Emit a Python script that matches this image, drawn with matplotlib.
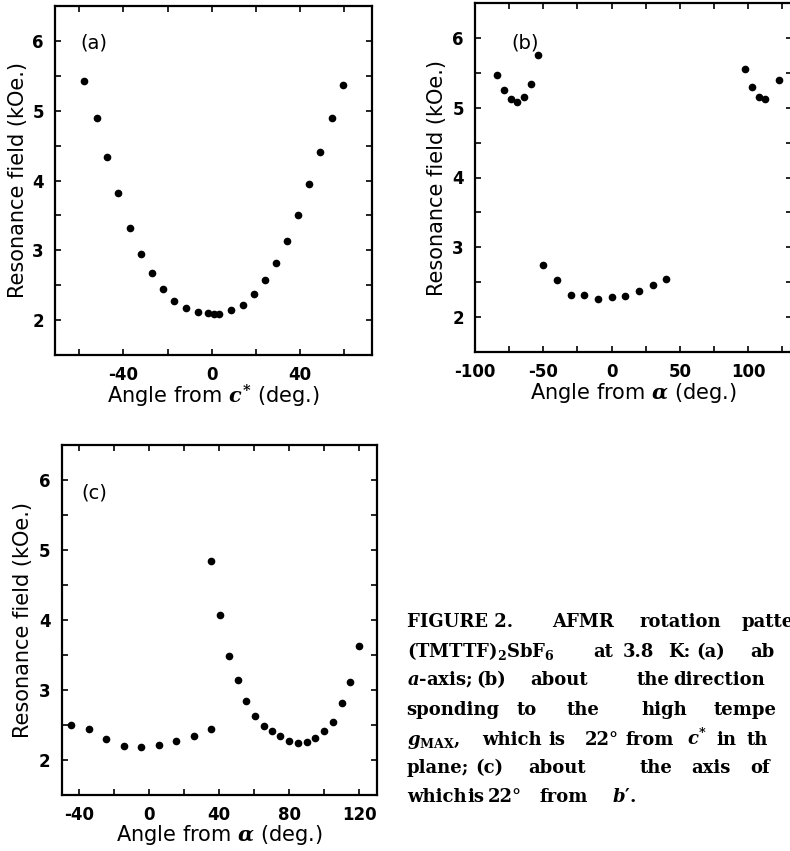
import matplotlib
matplotlib.use("Agg")
import matplotlib.pyplot as plt

W, H = 790, 851

# ---- data ----
a_angle = [-58, -52, -47.5, -42.5, -37, -32, -27, -22, -17, -11.5, -6, -1.5, 1, 3.5,
           9, 14, 19, 24, 29, 34, 39, 44, 49, 54.5, 59.5]
a_field = [5.43, 4.89, 4.33, 3.82, 3.32, 2.94, 2.67, 2.45, 2.28, 2.18, 2.11, 2.10, 2.09, 2.09,
           2.14, 2.22, 2.38, 2.58, 2.82, 3.13, 3.50, 3.95, 4.41, 4.90, 5.37]

b_angle = [-84, -79, -74, -69, -64, -59, -54,
           -50, -40, -30, -20, -10, 0, 10, 20, 30, 40,
           97.5, 102.5, 107.5, 112.5, 122.5]
b_field = [5.47, 5.25, 5.12, 5.08, 5.15, 5.34, 5.76,
           2.75, 2.53, 2.32, 2.32, 2.26, 2.29, 2.30, 2.37, 2.46, 2.54,
           5.55, 5.30, 5.16, 5.13, 5.39]

c_angle = [-44.5, -34.5, -24.5, -14.5, -4.5, 5.5, 15.5, 25.5, 35.5,
           35.5, 40.5, 45.5, 50.5, 55.5, 60.5, 65.5, 70, 75, 80, 85, 90, 95, 100, 105, 110, 115, 120]
c_field = [2.50, 2.44, 2.30, 2.20, 2.19, 2.22, 2.27, 2.35, 2.45,
           4.84, 4.07, 3.49, 3.15, 2.84, 2.63, 2.49, 2.41, 2.34, 2.27, 2.24, 2.26, 2.32, 2.42,
           2.55, 2.81, 3.11, 3.63]

a_xticks = [-60, -40, -20, 0, 20, 40, 60]
a_xlabels = ["", "-40", "", "0", "", "40", ""]
b_xticks = [-100, -75, -50, -25, 0, 25, 50, 75, 100, 125]
b_xlabels = ["-100", "", "-50", "", "0", "", "50", "", "100", ""]
c_xticks = [-40, -20, 0, 20, 40, 60, 80, 100, 120]
c_xlabels = ["-40", "", "0", "", "40", "", "80", "", "120"]
yticks = [2, 2.5, 3, 3.5, 4, 4.5, 5, 5.5, 6]
ylabels = ["2", "", "3", "", "4", "", "5", "", "6"]

plt.rcParams["axes.unicode_minus"] = False
plt.rcParams["mathtext.fontset"] = "custom"
plt.rcParams["mathtext.rm"] = "DejaVu Serif:bold"
plt.rcParams["mathtext.it"] = "DejaVu Serif:italic:bold"
plt.rcParams["mathtext.bf"] = "DejaVu Serif:bold"


def box(left, top, right, bottom):
    return [left / W, 1 - bottom / H, (right - left) / W, (bottom - top) / H]


def panel(ax, x, y, xlim, xticks, xlabels, xlabel, tag, tagpos, ylx, xly):
    ax.plot(x, y, "o", color="black", ms=4.5, ls="none")
    ax.set_xlim(*xlim)
    ax.set_ylim(1.5, 6.5)
    ax.set_xticks(xticks)
    ax.set_xticklabels(xlabels)
    ax.set_yticks(yticks)
    ax.set_yticklabels(ylabels)
    ax.tick_params(direction="in", length=4, width=1.2, top=True, right=True,
                   labelsize=12, pad=8)
    for lab in ax.get_xticklabels() + ax.get_yticklabels():
        lab.set_fontweight("bold")
    for s in ax.spines.values():
        s.set_linewidth(1.6)
    ax.set_ylabel("Resonance field (kOe.)", fontsize=15)
    ax.set_xlabel(xlabel, fontsize=15)
    ax.yaxis.set_label_coords(ylx, 0.5)
    ax.xaxis.set_label_coords(0.5, xly)
    ax.xaxis.label.set_va("center")
    ax.yaxis.label.set_va("center")
    ax.text(tagpos[0], tagpos[1], tag, transform=ax.transAxes, fontsize=14,
            ha="left", va="center")


fig = plt.figure(figsize=(W / 100, H / 100), dpi=100)

ax_a = fig.add_axes(box(55, 6, 372, 355))
panel(ax_a, a_angle, a_field, (-71, 72.7), a_xticks, a_xlabels,
      r"Angle from $c^{*}$ (deg.)", "(a)", (0.079, 0.894), -0.117, -0.119)

ax_b = fig.add_axes(box(475, 3, 792, 352))
panel(ax_b, b_angle, b_field, (-100, 132), b_xticks, b_xlabels,
      r"Angle from $\alpha$ (deg.)", "(b)", (0.116, 0.885), -0.121, -0.118)

ax_c = fig.add_axes(box(61.7, 445, 376.7, 795))
panel(ax_c, c_angle, c_field, (-50, 130), c_xticks, c_xlabels,
      r"Angle from $\alpha$ (deg.)", "(c)", (0.063, 0.862), -0.122, -0.114)

# ---- caption, word by word (justified text, runs off the right edge like the scan) ----
caption = [
    (626.7, [(406.7, "FIGURE 2."), (551.7, "AFMR"), (639.3, "rotation"), (741.7, "patte")]),
    (656.7, [(406.7, r"(TMTTF)$_2$SbF$_6$"), (593.3, "at"), (623, "3.8"), (668, "K:"),
             (696.7, "(a)"), (750, "ab")]),
    (685.0, [(406.7, r"$a$-axis;"), (476, "(b)"), (530, "about"), (637, "the"),
             (673.3, "direction")]),
    (715.0, [(406.7, "sponding"), (516.7, "to"), (566.7, "the"), (641.7, "high"),
             (713.3, "tempe")]),
    (745.0, [(406.7, r"$g_{\mathrm{MAX}}$,"), (481.7, "which"), (548.3, "is"), (585, "22°"),
             (625, "from"), (686.7, r"$c^{*}$"), (716.7, "in"), (746.7, "th")]),
    (773.3, [(406.7, "plane;"), (475, "(c)"), (528.3, "about"), (640, "the"),
             (691.7, "axis"), (750, "of")]),
    (801.7, [(406.7, "which"), (467.5, "is"), (488.3, "22°"), (540, "from"), (611.7, r"$b$′.")]),
]
for yb, words in caption:
    for xw, word in words:
        fig.text(xw / W, 1 - yb / H, word, family="DejaVu Serif", fontweight="bold",
                 fontsize=13, ha="left", va="baseline")

fig.savefig("out.png", dpi=100)
